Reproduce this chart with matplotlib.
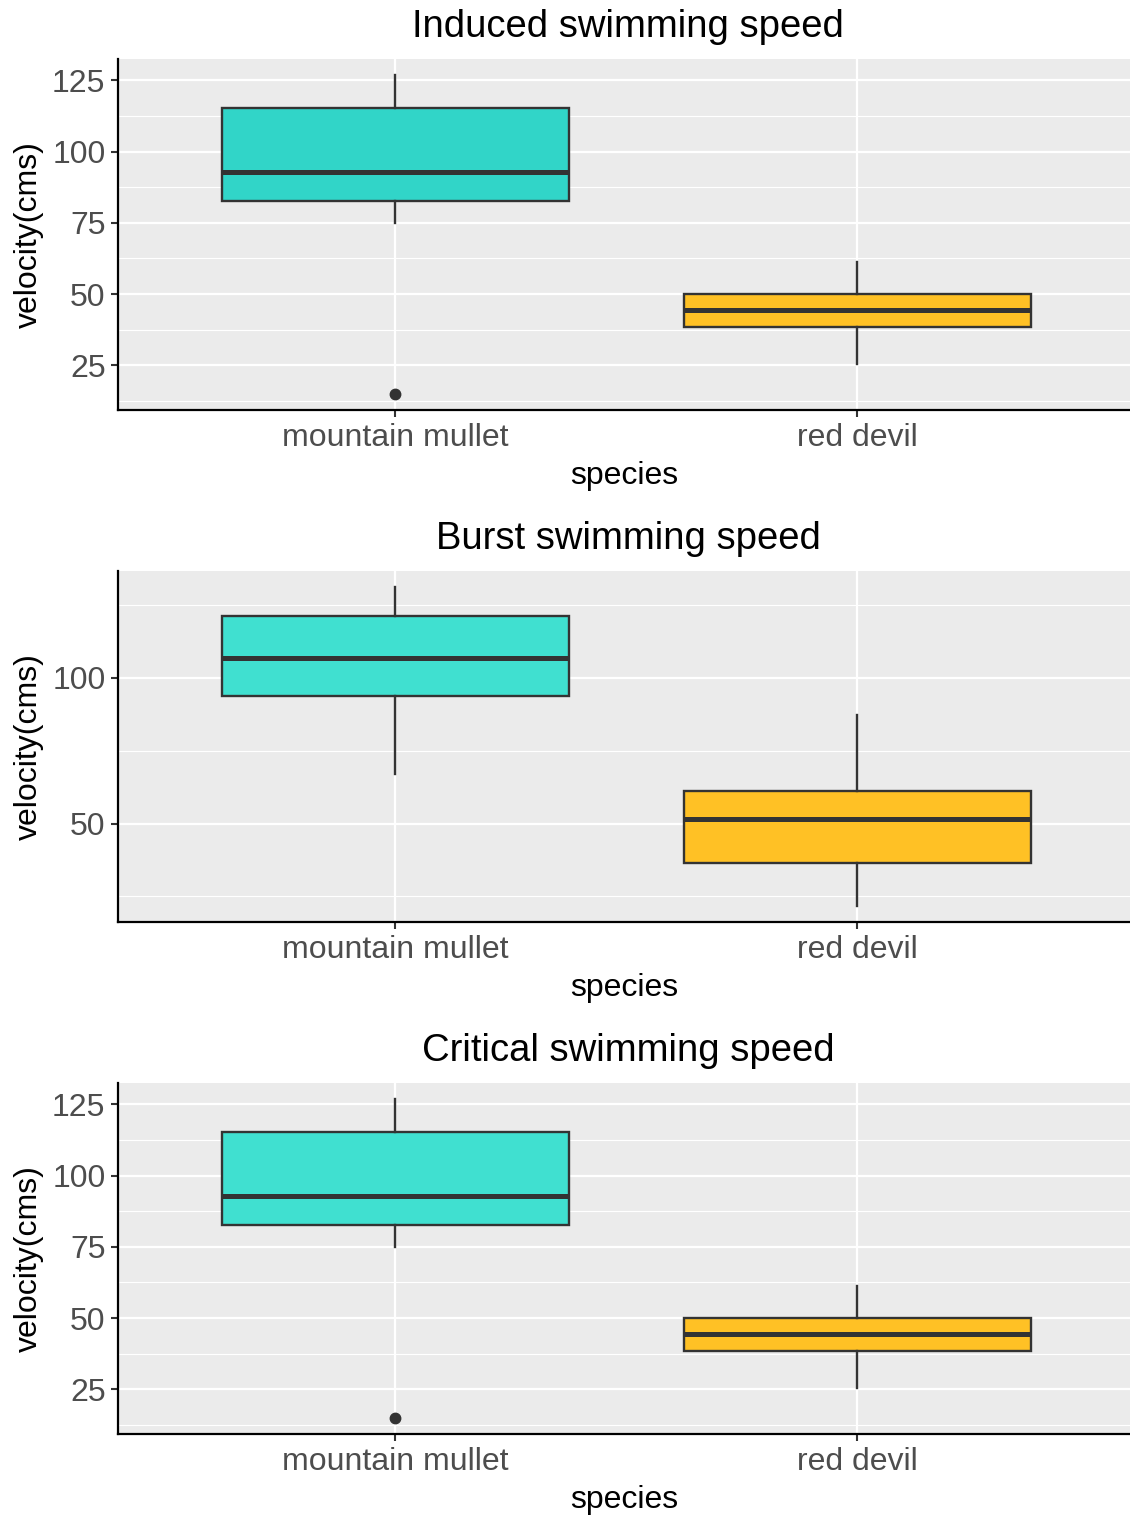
import numpy as np
import matplotlib
matplotlib.use("Agg")
import matplotlib.pyplot as plt
from matplotlib.ticker import MultipleLocator

plt.rcParams['font.family'] = ['Liberation Sans', 'DejaVu Sans']

# box statistics per panel, one value per species
species = ["mountain mullet", "red devil"]
titles = ["Induced swimming speed", "Burst swimming speed", "Critical swimming speed"]

induced_whislo = [74.9, 25.4]
induced_q1 = [82.5, 38.6]
induced_med = [92.8, 44.5]
induced_q3 = [115.4, 50.0]
induced_whishi = [126.9, 61.1]
induced_fliers = [[14.9], []]

burst_whislo = [66.9, 21.7]
burst_q1 = [93.7, 36.6]
burst_med = [106.9, 51.7]
burst_q3 = [121.2, 61.1]
burst_whishi = [131.2, 87.2]
burst_fliers = [[], []]

critical_whislo = [74.9, 25.4]
critical_q1 = [82.5, 38.6]
critical_med = [92.8, 44.5]
critical_q3 = [115.4, 50.0]
critical_whishi = [126.9, 61.1]
critical_fliers = [[14.9], []]

panels = [
    (induced_whislo, induced_q1, induced_med, induced_q3, induced_whishi, induced_fliers),
    (burst_whislo, burst_q1, burst_med, burst_q3, burst_whishi, burst_fliers),
    (critical_whislo, critical_q1, critical_med, critical_q3, critical_whishi, critical_fliers),
]
fills = [["#31D5C8", "#FFC125"], ["#40E0D0", "#FFC125"], ["#40E0D0", "#FFC125"]]
major_steps = [25, 50, 25]

W, H = 1130, 1515
fig = plt.figure(figsize=(W / 100, H / 100), dpi=100)
fig.patch.set_facecolor("white")

tops = [59, 571, 1083]
left_px, right_px = 118, 1130
ph = 351

for i, (whislo, q1, med, q3, whishi, fliers) in enumerate(panels):
    ax = fig.add_axes([left_px / W, (H - tops[i] - ph) / H, (right_px - left_px) / W, ph / H])
    ax.set_facecolor("#EBEBEB")

    stats = []
    for j in range(len(species)):
        stats.append(dict(med=med[j], q1=q1[j], q3=q3[j], whislo=whislo[j],
                          whishi=whishi[j], fliers=fliers[j]))
    bp = ax.bxp(stats, positions=[1, 2], widths=0.75, patch_artist=True, showcaps=False,
                boxprops=dict(edgecolor="#333333", linewidth=1.7),
                medianprops=dict(color="#333333", linewidth=3.6, solid_capstyle="butt"),
                whiskerprops=dict(color="#333333", linewidth=1.7),
                flierprops=dict(marker="o", markerfacecolor="#333333", markeredgecolor="#333333",
                                markersize=7.5))
    for patch, c in zip(bp["boxes"], fills[i]):
        patch.set_facecolor(c)
    for line in bp["medians"]:
        line.set_zorder(4)

    # ggplot-style 5% expansion around the data range
    lo = min(min(whislo), min([min(f) for f in fliers if f] or [np.inf]))
    hi = max(whishi)
    span = hi - lo
    ax.set_ylim(lo - 0.05 * span, hi + 0.05 * span)
    ax.set_xlim(0.4, 2.59)

    step = major_steps[i]
    ax.yaxis.set_major_locator(MultipleLocator(step))
    ax.yaxis.set_minor_locator(MultipleLocator(step / 2))
    ax.set_xticks([1, 2])
    ax.set_xticklabels(species)

    ax.grid(True, which="major", color="white", linewidth=1.6)
    ax.grid(True, which="minor", axis="y", color="white", linewidth=0.8)
    ax.set_axisbelow(True)

    for s in ["top", "right"]:
        ax.spines[s].set_visible(False)
    for s in ["left", "bottom"]:
        ax.spines[s].set_color("black")
        ax.spines[s].set_linewidth(1.6)

    ax.tick_params(which="major", length=5, width=1.5, color="#333333",
                   labelsize=23, labelcolor="#4D4D4D", pad=4)
    ax.tick_params(which="minor", length=0)

    ax.set_xlabel("species", fontsize=23, labelpad=6)
    ax.set_ylabel("velocity(cms)", fontsize=23, labelpad=6)
    ax.set_title(titles[i], fontsize=27.5, pad=16, x=0.504)

fig.savefig("out.png", dpi=100)
